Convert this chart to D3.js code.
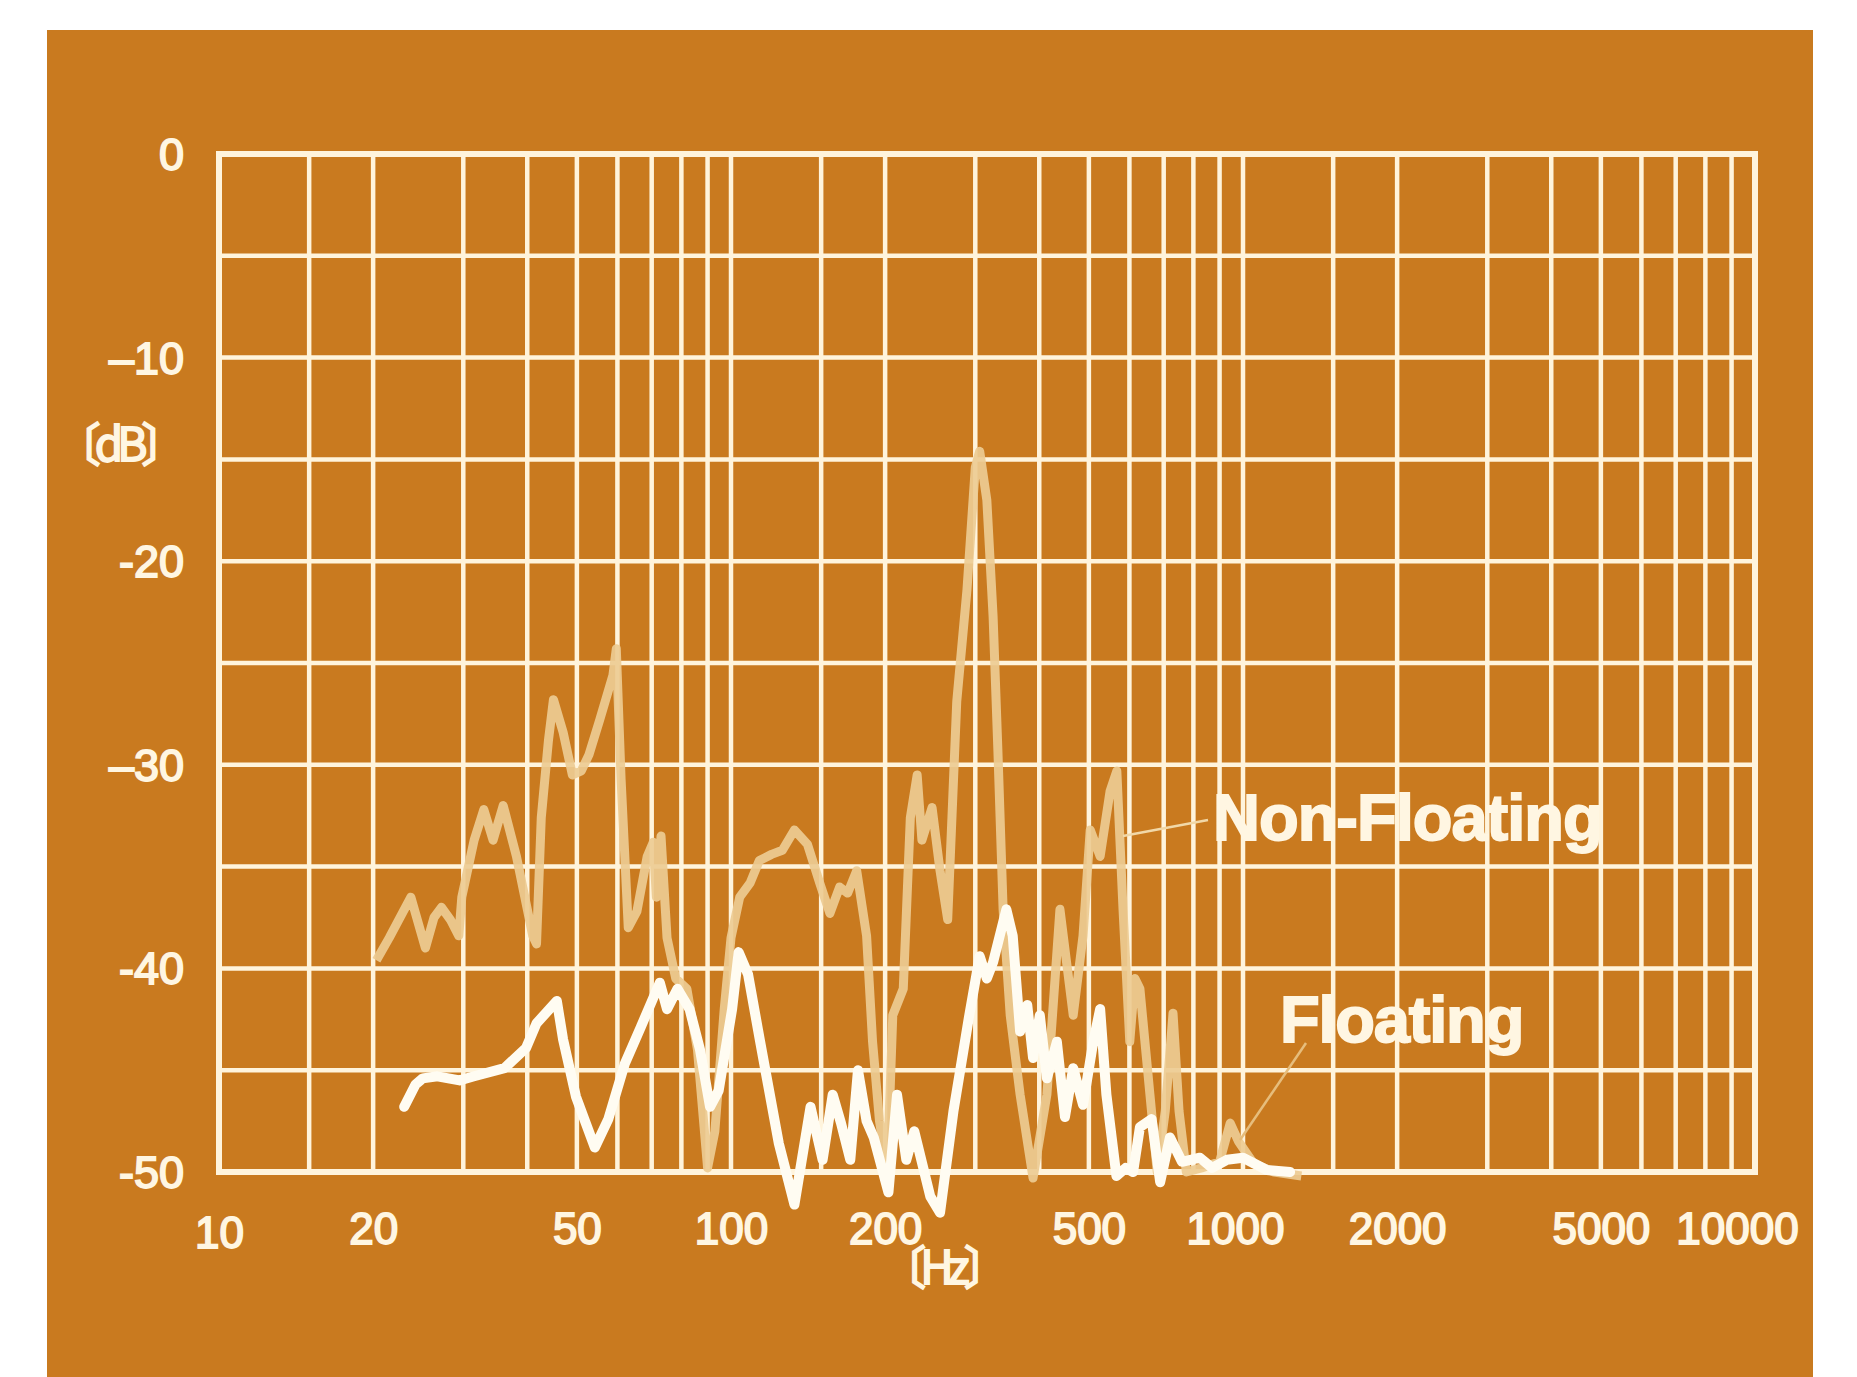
<html>
<head>
  <meta charset="utf-8">
  <title>Floating / Non-Floating response</title>
  <script src="https://cdn.jsdelivr.net/npm/d3@7/dist/d3.min.js"></script>
</head>
<style>
  body { margin: 0; background: #ffffff; }
  .lbl { font-family: "Liberation Sans", Arial, sans-serif; fill: #fff6e2; stroke: #fff6e2; stroke-width: 1.8px; }
  .cjk { font-family: "Noto Sans CJK JP", sans-serif; }
</style>
<body>
<div id="chart"></div>
<script>
// frequency ticks (Hz) and labels
var freqTicks = [10, 20, 50, 100, 200, 500, 1000, 2000, 5000, 10000];
var freqGrid = [10, 15, 20, 30, 40, 50, 60, 70, 80, 90,
                100, 150, 200, 300, 400, 500, 600, 700, 800, 900,
                1000, 1500, 2000, 3000, 4000, 5000, 6000, 7000, 8000, 9000, 10000];
var dbTicks = [0, -10, -20, -30, -40, -50];
var dbTickText = ["0", "\u201310", "-20", "\u201330", "-40", "-50"];
var dbGrid = [0, -5, -10, -15, -20, -25, -30, -35, -40, -45, -50];

// Non-Floating response [Hz, dB]
var nonFloating = [
  [20.3, -39.6], [21.5, -38.5], [23.7, -36.5], [25.3, -39.0], [26.3, -37.5], [27.2, -37.0],
  [28.3, -37.6], [29.4, -38.4], [29.8, -36.5], [31.5, -33.7], [32.9, -32.2], [34.3, -33.7],
  [35.9, -32.0], [38.1, -34.5], [41.0, -38.4], [41.7, -38.8], [42.6, -32.6], [44.0, -28.8],
  [45.0, -26.8], [47.0, -28.4], [49.0, -30.5], [51.0, -30.3], [52.8, -29.5], [55.4, -27.8],
  [58.8, -25.6], [59.7, -24.3], [61.0, -30.7], [63.0, -38.0], [65.5, -37.2], [68.6, -34.5],
  [70.5, -33.8], [71.5, -36.5], [73.0, -33.5], [75.0, -38.5], [78.0, -40.5], [82.0, -41.0],
  [86.0, -44.0], [90.0, -49.8], [93.0, -48.0], [97.0, -42.0], [100, -38.5], [104, -36.5],
  [109, -35.8], [113.6, -34.7], [120, -34.4], [126, -34.2], [133, -33.2], [141, -33.9],
  [149, -35.8], [156, -37.3], [163, -36.0], [169, -36.3], [176, -35.2], [184, -38.4],
  [189, -43.6], [195, -47.5], [202, -49.9], [207, -42.3], [217, -41.0], [224, -32.6],
  [231, -30.5], [236, -33.7], [247, -32.1], [256, -35.2], [265, -37.6], [276, -26.9],
  [289, -21.4], [300, -15.4], [306, -14.6], [316, -17.0], [325, -22.7], [332, -29.2],
  [340, -37.1], [351, -42.3], [367, -46.2], [389, -50.3], [414, -46.2], [439, -37.1],
  [466, -42.3], [487, -38.4], [503, -33.2], [526, -34.5], [550, -31.3], [567, -30.3],
  [583, -37.1], [601, -43.6], [615, -40.5], [629, -41.0], [658, -46.2], [680, -50.0],
  [705, -47.0], [730, -42.2], [750, -47.0], [775, -50.0], [830, -49.8], [900, -49.5],
  [944, -47.6], [980, -48.5], [1050, -49.6], [1150, -50.0], [1300, -50.2]
];

// Floating response [Hz, dB]
var floating = [
  [23.0, -46.8], [24.2, -45.7], [25.0, -45.4], [26.7, -45.3], [29.5, -45.5], [31.5, -45.3],
  [36.1, -44.9], [39.8, -43.9], [41.7, -42.7], [45.7, -41.6], [47.0, -43.5], [49.8, -46.3],
  [54.2, -48.8], [57.6, -47.4], [62.0, -44.7], [66.6, -42.9], [72.6, -40.7], [75.0, -42.0],
  [78.6, -41.0], [83.0, -42.0], [87.0, -44.0], [91.0, -46.8], [94.6, -46.0],
  [100.5, -42.0], [103.5, -39.2], [108, -40.3], [114, -43.6], [124, -48.6], [133, -51.6],
  [143, -46.8], [151, -49.4], [158, -46.2], [164, -47.6], [171, -49.4], [177, -45.0],
  [184, -47.5], [190, -48.3], [203, -51.0], [211, -46.2], [220, -49.4], [228, -48.0],
  [245, -51.2], [256, -52.0], [272, -47.0], [292, -42.3], [306, -39.4], [316, -40.5],
  [325, -39.7], [345, -37.1], [355, -38.4], [367, -43.1], [379, -41.8], [389, -44.4],
  [401, -42.3], [414, -45.4], [433, -43.6], [449, -47.3], [466, -44.9], [487, -46.7],
  [510, -43.6], [526, -42.0], [541, -46.2], [566, -50.2], [590, -49.8], [610, -50.0],
  [629, -47.8], [663, -47.4], [689, -50.5], [720, -48.3], [760, -49.5], [824, -49.3],
  [870, -49.8], [930, -49.4], [1000, -49.3], [1113, -49.9], [1236, -50.0]
];

var width = 1857, height = 1377;
var bgColor = "#c97a1f";
var gridColor = "#fff4dc";

var svg = d3.select("#chart").append("svg")
    .attr("width", width)
    .attr("height", height);

svg.append("rect").attr("x", 0).attr("y", 0).attr("width", width).attr("height", height).attr("fill", "#ffffff");
svg.append("rect").attr("x", 47).attr("y", 30).attr("width", 1766).attr("height", height - 30).attr("fill", bgColor);

var x = d3.scaleLog().domain([10, 10000]).range([219, 1755]);
var y = d3.scaleLinear().domain([-50, 0]).range([1172, 154]);

// grid
var grid = svg.append("g");
grid.selectAll("line.v").data(freqGrid).enter().append("line")
    .attr("x1", d => x(d)).attr("x2", d => x(d))
    .attr("y1", y(0)).attr("y2", y(-50))
    .attr("stroke", gridColor).attr("stroke-width", 4.5);
grid.selectAll("line.h").data(dbGrid).enter().append("line")
    .attr("x1", x(10)).attr("x2", x(10000))
    .attr("y1", d => y(d)).attr("y2", d => y(d))
    .attr("stroke", gridColor).attr("stroke-width", 4.5);
grid.append("rect")
    .attr("x", x(10)).attr("y", y(0))
    .attr("width", x(10000) - x(10)).attr("height", y(-50) - y(0))
    .attr("fill", "none").attr("stroke", gridColor).attr("stroke-width", 6);

var line = d3.line().x(d => x(d[0])).y(d => y(d[1]));

svg.append("path").datum(nonFloating)
    .attr("d", line)
    .attr("fill", "none")
    .attr("stroke", "#edcb92")
    .attr("stroke-opacity", 0.92)
    .attr("stroke-width", 9)
    .attr("stroke-linejoin", "round");

svg.append("path").datum(floating)
    .attr("d", line)
    .attr("fill", "none")
    .attr("stroke", "#fffcf2")
    .attr("stroke-width", 10)
    .attr("stroke-linejoin", "round")
    .attr("stroke-linecap", "round");

// x axis labels
var xAxis = d3.axisBottom(x).tickValues(freqTicks).tickFormat(d3.format("d")).tickSize(0).tickPadding(0);
var gx = svg.append("g").attr("transform", "translate(0,1244)").call(xAxis);
gx.select(".domain").remove();
gx.selectAll("text")
    .attr("class", "lbl")
    .attr("dy", d => d === 10 ? 4 : 0)
    .attr("font-size", 44)
    .attr("dx", d => d === 10000 ? -18 : (d === 1000 ? -8 : 0));

// y axis labels
var gy = svg.append("g");
gy.selectAll("text").data(dbTicks).enter().append("text")
    .attr("class", "lbl")
    .attr("x", 184)
    .attr("y", d => y(d) + 16)
    .attr("text-anchor", "end")
    .attr("font-size", 45)
    .text((d, i) => dbTickText[i]);

// unit labels in tortoise-shell brackets
svg.append("text").attr("class", "lbl cjk")
    .attr("x", 118).attr("y", 461)
    .attr("text-anchor", "middle").attr("font-size", 46).attr("letter-spacing", -6)
    .text("\u3014dB\u3015");
svg.append("text").attr("class", "lbl cjk")
    .attr("x", 942).attr("y", 1284)
    .attr("text-anchor", "middle").attr("font-size", 46).attr("letter-spacing", -6)
    .text("\u3014Hz\u3015");

// series labels with leader lines
svg.append("line").attr("x1", 1208).attr("y1", 820).attr("x2", 1123).attr("y2", 836)
    .attr("stroke", "#f1d8a8").attr("stroke-width", 2.5);
svg.append("line").attr("x1", 1306).attr("y1", 1043).attr("x2", 1240).attr("y2", 1140)
    .attr("stroke", "#e6bd7c").attr("stroke-width", 2.5);

svg.append("text").attr("class", "lbl")
    .attr("x", 1213).attr("y", 840)
    .attr("font-size", 65).attr("font-weight", "bold").attr("letter-spacing", -1)
    .text("Non-Floating");
svg.append("text").attr("class", "lbl")
    .attr("x", 1280).attr("y", 1042)
    .attr("font-size", 65).attr("font-weight", "bold").attr("letter-spacing", -1.2)
    .text("Floating");
</script>
</body>
</html>
